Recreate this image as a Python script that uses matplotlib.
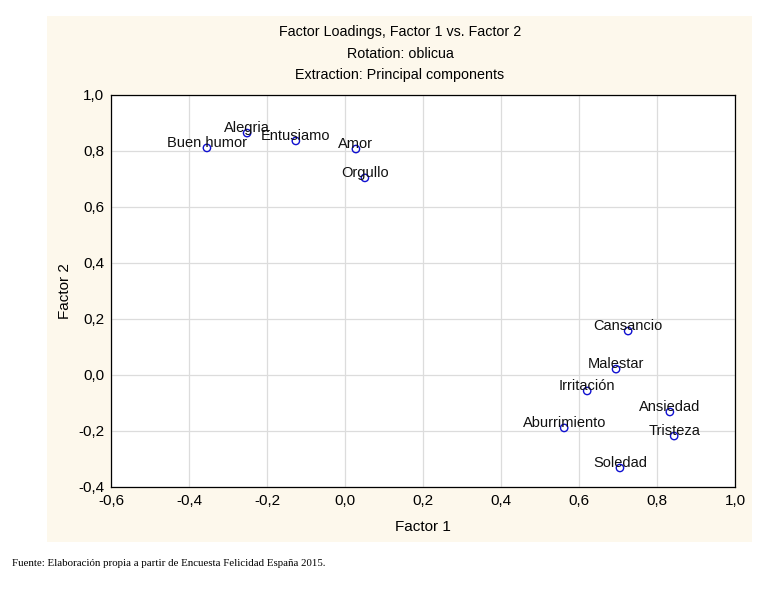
import matplotlib.pyplot as plt
from matplotlib.patches import Rectangle
from matplotlib.ticker import FuncFormatter

#-----------------------------
labels = ['Buen humor', 'Alegria', 'Entusiamo', 'Amor', 'Orgullo',
          'Cansancio', 'Malestar', 'Irritación', 'Ansiedad',
          'Aburrimiento', 'Tristeza', 'Soledad']
factor1 = [-0.354, -0.251, -0.126, 0.028, 0.051,
           0.726, 0.695, 0.621, 0.833, 0.562, 0.844, 0.705]
factor2 = [0.811, 0.864, 0.836, 0.807, 0.704,
           0.157, 0.021, -0.057, -0.132, -0.189, -0.218, -0.332]

title_lines = ['Factor Loadings, Factor 1 vs. Factor 2',
               'Rotation: oblicua',
               'Extraction: Principal components']
source_note = 'Fuente: Elaboración propia a partir de Encuesta Felicidad España 2015.'

cream = '#fdf8ec'
myfontsize = 11
#-----------------------------

plt.rcParams['font.family'] = ['Liberation Sans', 'DejaVu Sans']

W, H = 761, 591
fig = plt.figure(figsize=(W / 100, H / 100), dpi=100)

# cream panel behind the chart
panel = Rectangle((47 / W, 1 - 542 / H), (752 - 47) / W, (542 - 16) / H,
                  transform=fig.transFigure, facecolor=cream,
                  edgecolor='none', zorder=-5)
fig.patches.append(panel)

ax = fig.add_axes([111 / W, 1 - 487 / H, (735 - 111) / W, (487 - 95) / H])
ax.set_zorder(2)
ax.set_facecolor('white')

ax.scatter(factor1, factor2, s=28, facecolors='none', edgecolors='#1010d0',
           linewidths=1.0, zorder=3)
for name, x, y in zip(labels, factor1, factor2):
    ax.annotate(name, (x, y), xytext=(0, 0.5), textcoords='offset points',
                ha='center', va='baseline', fontsize=10.5, color='#111111', zorder=4)

ax.set_xlim(-0.6, 1.0)
ax.set_ylim(-0.4, 1.0)
ax.set_xticks([-0.6, -0.4, -0.2, 0.0, 0.2, 0.4, 0.6, 0.8, 1.0])
ax.set_yticks([-0.4, -0.2, 0.0, 0.2, 0.4, 0.6, 0.8, 1.0])
comma = FuncFormatter(lambda v, p: ('%.1f' % v).replace('.', ','))
ax.xaxis.set_major_formatter(comma)
ax.yaxis.set_major_formatter(comma)
ax.grid(True, color='#dcdcdc', linewidth=0.9, zorder=0)
ax.set_axisbelow(True)
ax.tick_params(length=0, labelsize=myfontsize, pad=5)
for s in ax.spines.values():
    s.set_color('black')
    s.set_linewidth(0.9)

ax.set_xlabel('Factor 1', fontsize=myfontsize, labelpad=9)
ax.set_ylabel('Factor 2', fontsize=myfontsize, labelpad=4)

for i, line in enumerate(title_lines):
    fig.text(400 / W, 1 - (32 + i * 21.5) / H, line, ha='center', va='center',
             fontsize=10.3)

fig.text(12 / W, 1 - 563 / H, source_note, ha='left', va='center',
         fontsize=7.8, family=['Liberation Serif', 'DejaVu Serif'])

plt.savefig('out.png', dpi=100)
